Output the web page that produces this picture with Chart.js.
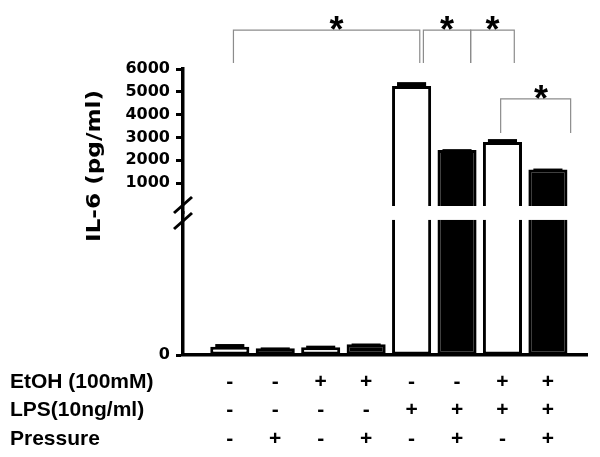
<!DOCTYPE html>
<html>
<head>
<meta charset="utf-8">
<script src="https://cdn.jsdelivr.net/npm/chart.js@4"></script>
<style>
  html, body { margin: 0; padding: 0; background: #fff; }
  #wrap { width: 600px; height: 457px; }
</style>
</head>
<body>
<div id="wrap"><canvas id="chart"></canvas></div>
<script>
// treatment table under the bars
const etoh     = ['-', '-', '+', '+', '-', '-', '+', '+'];
const lps      = ['-', '-', '-', '-', '+', '+', '+', '+'];
const pressure = ['-', '+', '-', '+', '-', '+', '-', '+'];
const rowNames = ['EtOH (100mM)', 'LPS(10ng/ml)', 'Pressure'];

// IL-6 (pg/ml): mean and error bar
const il6    = [61, 50, 57, 79, 5250, 2450, 2800, 1600];
const il6Err = [20, 6, 12, 6, 175, 40, 130, 40];

// broken y axis
const breakAt = 1000;
const upperTicks = [1000, 2000, 3000, 4000, 5000, 6000];
const lowerTicks = [0];

// significance brackets: bar positions and levels on the upper axis
const brackets = [
  { from: 0.08, to: 4.18, star: 2.35, level: 7700, drop: 6260 },
  { from: 4.26, to: 5.30, level: 7700, drop: 6260 },
  { from: 5.30, to: 6.26, level: 7700, drop: 6260 },
  { from: 5.96, to: 7.50, star: 6.85, level: 4690, drop: 3200 }
];

const idx = il6.map((_, i) => i);
const broken = il6.map(v => v > breakAt);
const fills = idx.map(i => i % 2 ? '#000' : '#fff');

const rowLine = 28.5;
const rowPad = 12.75;
const labelFont = '"Liberation Sans", Arial, sans-serif';

const extras = {
  id: 'extras',
  afterDraw(chart) {
    const ctx = chart.ctx;
    const x = chart.scales.x;
    const yHigh = chart.scales.yHigh;
    const yLow = chart.scales.yLow;

    // error caps
    idx.forEach(i => {
      const dsIndex = broken[i] ? 1 : 0;
      const scale = broken[i] ? yHigh : yLow;
      const el = chart.getDatasetMeta(dsIndex).data[i];
      if (!el) return;
      const top = scale.getPixelForValue(il6[i] + il6Err[i]);
      const inset = 5;
      ctx.fillStyle = '#000';
      ctx.fillRect(el.x - el.width / 2 + inset, top, el.width - inset * 2, el.y - top + 1);
    });

    // brackets and stars
    ctx.save();
    ctx.strokeStyle = '#8c8c8c';
    ctx.lineWidth = 1.2;
    brackets.forEach(b => {
      const x1 = x.getPixelForValue(b.from);
      const x2 = x.getPixelForValue(b.to);
      const yl = yHigh.getPixelForValue(b.level);
      const yd = yHigh.getPixelForValue(b.drop);
      ctx.beginPath();
      ctx.moveTo(x1, yd);
      ctx.lineTo(x1, yl);
      ctx.lineTo(x2, yl);
      ctx.lineTo(x2, yd);
      ctx.stroke();
      const sx = b.star !== undefined ? x.getPixelForValue(b.star) : (x1 + x2) / 2;
      ctx.fillStyle = '#000';
      ctx.font = 'bold 36px ' + labelFont;
      ctx.textAlign = 'center';
      ctx.textBaseline = 'alphabetic';
      ctx.fillText('*', sx, yl + 12);
    });
    ctx.restore();

    // axis break marks
    const ax = yLow.right;
    const yb = yLow.top;
    ctx.save();
    ctx.strokeStyle = '#000';
    ctx.lineWidth = 3;
    [-8, 8].forEach(off => {
      ctx.beginPath();
      ctx.moveTo(ax - 9, yb + off + 8);
      ctx.lineTo(ax + 9, yb + off - 8);
      ctx.stroke();
    });
    ctx.restore();

    // y title, stretched like the original
    ctx.save();
    ctx.translate(100, 166);
    ctx.rotate(-Math.PI / 2);
    ctx.scale(1.22, 1);
    ctx.fillStyle = '#000';
    ctx.font = 'bold 19px "DejaVu Sans", sans-serif';
    ctx.textAlign = 'center';
    ctx.textBaseline = 'alphabetic';
    ctx.fillText('IL-6 (pg/ml)', 0, 0);
    ctx.restore();

    // row names of the treatment table
    ctx.save();
    ctx.fillStyle = '#000';
    ctx.font = 'bold 21px ' + labelFont;
    ctx.textAlign = 'left';
    ctx.textBaseline = 'middle';
    rowNames.forEach((name, r) => {
      ctx.fillText(name, 10, x.top + rowPad + rowLine * (r + 0.5));
    });
    ctx.restore();
  }
};

const yTickFont = { family: '"DejaVu Sans", sans-serif', weight: 'bold', size: 16 };
const yTicks = { color: '#000', font: yTickFont, padding: 6, autoSkip: false, callback: v => String(v) };
const yGrid = { drawOnChartArea: false, tickLength: 7, tickWidth: 3, tickColor: '#000' };

new Chart(document.getElementById('chart'), {
  type: 'bar',
  data: {
    datasets: [
      {
        label: 'lower',
        yAxisID: 'yLow',
        data: idx.map(i => ({ x: i, y: Math.min(il6[i], breakAt) })),
        backgroundColor: fills,
        borderColor: '#000',
        borderWidth: c => broken[c.dataIndex] ? { top: 0, right: 3, bottom: 3, left: 3 } : 3,
        borderSkipped: false,
        grouped: false,
        barPercentage: 0.86,
        categoryPercentage: 1
      },
      {
        label: 'upper',
        yAxisID: 'yHigh',
        data: idx.map(i => ({ x: i, y: broken[i] ? il6[i] : null })),
        backgroundColor: fills,
        borderColor: '#000',
        borderWidth: { top: 3, right: 3, bottom: 0, left: 3 },
        borderSkipped: false,
        grouped: false,
        barPercentage: 0.86,
        categoryPercentage: 1
      }
    ]
  },
  options: {
    responsive: true,
    maintainAspectRatio: false,
    animation: false,
    layout: { padding: { top: 69, right: 13, bottom: 0, left: 0 } },
    plugins: { legend: { display: false }, tooltip: { enabled: false } },
    scales: {
      x: {
        type: 'linear',
        offset: false,
        min: -1.03,
        max: 7.86,
        afterBuildTicks: s => { s.ticks = idx.map(i => ({ value: i })); },
        afterFit: s => { s.height = 102; },
        grid: { display: false, drawTicks: false },
        border: { display: true, color: '#000', width: 3.5 },
        ticks: {
          autoSkip: false,
          maxRotation: 0,
          padding: rowPad,
          color: '#000',
          font: { family: labelFont, weight: 'bold', size: 21, lineHeight: rowLine / 21 },
          callback: v => {
            const i = Math.round(v);
            return [etoh[i], lps[i], pressure[i]];
          }
        }
      },
      yLow: {
        type: 'linear',
        position: 'left',
        stack: 'il6',
        stackWeight: 142,
        min: 0,
        max: 1050,
        afterBuildTicks: s => { s.ticks = lowerTicks.map(v => ({ value: v })); },
        afterFit: s => { s.width = 183; },
        grid: yGrid,
        border: { color: '#000', width: 3.5 },
        ticks: yTicks
      },
      yHigh: {
        type: 'linear',
        position: 'left',
        stack: 'il6',
        stackWeight: 144,
        min: -307,
        max: 6000,
        afterBuildTicks: s => { s.ticks = upperTicks.map(v => ({ value: v })); },
        afterFit: s => { s.width = 183; },
        grid: yGrid,
        border: { color: '#000', width: 3.5 },
        ticks: yTicks
      }
    }
  },
  plugins: [extras]
});
</script>
</body>
</html>
